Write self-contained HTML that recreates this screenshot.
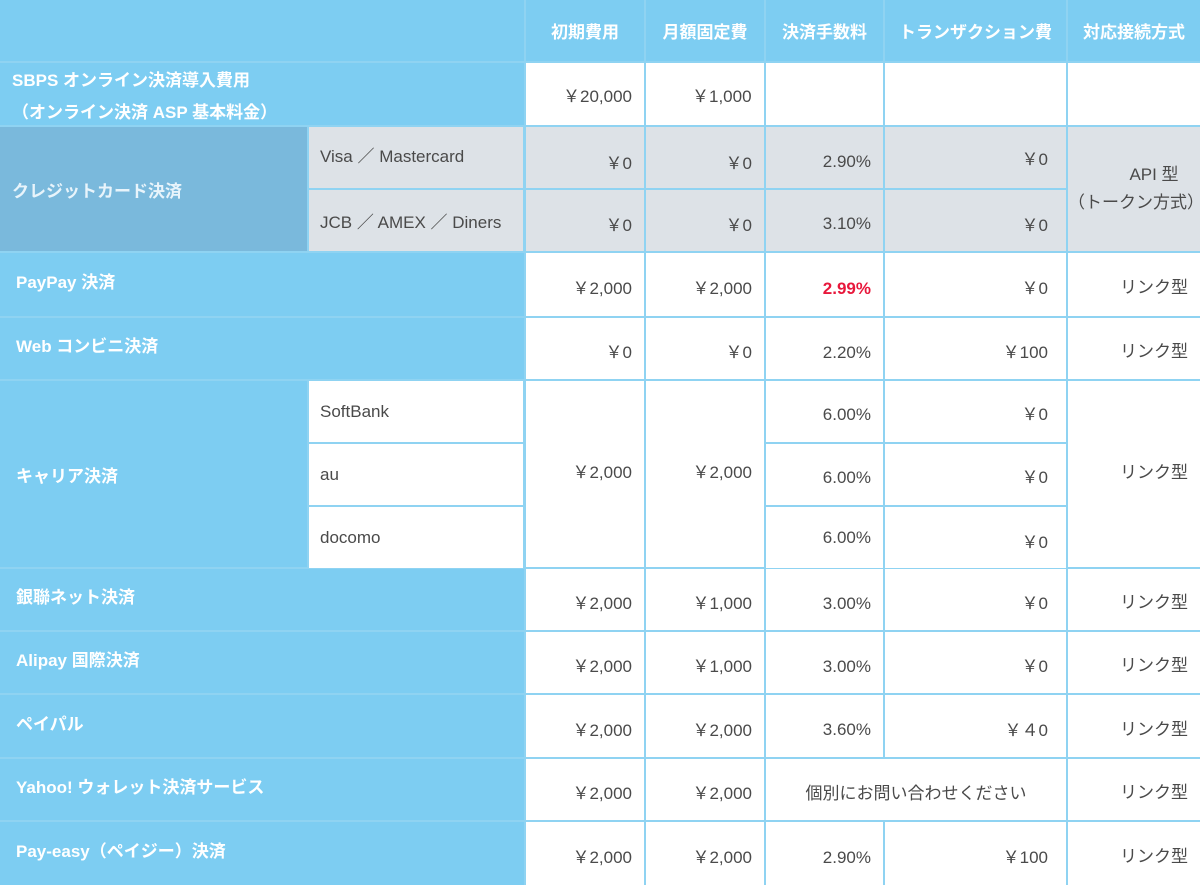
<!DOCTYPE html>
<html><head><meta charset="utf-8"><style>
body{margin:0;width:1200px;height:885px;background:#8fd3f2;position:relative;overflow:hidden;font-family:"Liberation Sans","Noto Sans CJK JP",sans-serif;}
.c{position:absolute;box-sizing:border-box;display:flex;align-items:center;font-size:17px;color:#4a4a4a;}
.b{background:#7dcdf2;color:#fff;font-weight:bold;}
.w{background:#fff;}
.g{background:#dde2e7;}
.h{justify-content:center;}
.r{justify-content:flex-end;padding-right:12px;}
.l{padding-left:12px;}
</style></head><body>
<!-- header -->
<div class="c b" style="left:0;top:0;width:524px;height:61px"></div>
<div class="c b h" style="left:526px;top:0;width:118px;height:61px">初期費用</div>
<div class="c b h" style="left:646px;top:0;width:118px;height:61px">月額固定費</div>
<div class="c b h" style="left:766px;top:0;width:117px;height:61px">決済手数料</div>
<div class="c b h" style="left:885px;top:0;width:181px;height:61px">トランザクション費</div>
<div class="c b h" style="left:1068px;top:0;width:132px;height:61px">対応接続方式</div>

<!-- SBPS -->
<div class="c b l" style="left:0;top:63px;width:524px;height:62px;line-height:32px;align-items:flex-start;padding-top:2px">SBPS オンライン決済導入費用<br>（オンライン決済 ASP 基本料金）</div>
<div class="c w r" style="left:526px;top:63px;width:118px;height:62px">￥20,000</div>
<div class="c w r" style="left:646px;top:63px;width:118px;height:62px;justify-content:flex-start;padding-left:46px">￥1,000</div>
<div class="c w" style="left:766px;top:63px;width:117px;height:62px"></div>
<div class="c w" style="left:885px;top:63px;width:181px;height:62px"></div>
<div class="c w" style="left:1068px;top:63px;width:132px;height:62px"></div>

<!-- credit card -->
<div class="c l" style="left:0;top:127px;width:307px;height:124px;background:#7ab9dc;color:#e8f4fb;font-weight:bold">クレジットカード決済</div>
<div class="c g l" style="left:309px;top:127px;width:214px;height:61px;padding-left:11px;padding-bottom:6px">Visa ／ Mastercard</div>
<div class="c g r" style="left:526px;top:127px;width:118px;height:61px;padding-top:8px">￥0</div>
<div class="c g r" style="left:646px;top:127px;width:118px;height:61px;padding-top:8px">￥0</div>
<div class="c g r" style="left:766px;top:127px;width:117px;height:61px;padding-top:8px">2.90%</div>
<div class="c g r" style="left:885px;top:127px;width:181px;height:61px;padding-right:18px">￥0</div>
<div class="c g l" style="left:309px;top:190px;width:214px;height:61px;padding-left:11px">JCB ／ AMEX ／ Diners</div>
<div class="c g r" style="left:526px;top:190px;width:118px;height:61px;padding-top:6px">￥0</div>
<div class="c g r" style="left:646px;top:190px;width:118px;height:61px;padding-top:6px">￥0</div>
<div class="c g r" style="left:766px;top:190px;width:117px;height:61px;padding-top:6px">3.10%</div>
<div class="c g r" style="left:885px;top:190px;width:181px;height:61px;padding-right:18px;padding-top:6px">￥0</div>
<div class="c g h" style="left:1068px;top:127px;width:132px;height:124px;flex-direction:column;justify-content:center;line-height:28px"><span style="margin-left:40px">API 型</span><span>（トークン方式）</span></div>

<!-- simple rows -->
<div id="rows"></div>
<script>
var rows=[
 ["paypay",253,63,"PayPay 決済","￥2,000","￥2,000","2.99%","￥0","リンク型"],
 ["web-konbini",318,61,"Web コンビニ決済","￥0","￥0","2.20%","￥100","リンク型"],
 ["unionpay",569,61,"銀聯ネット決済","￥2,000","￥1,000","3.00%","￥0","リンク型"],
 ["alipay",632,61,"Alipay 国際決済","￥2,000","￥1,000","3.00%","￥0","リンク型"],
 ["paypal",695,62,"ペイパル","￥2,000","￥2,000","3.60%","￥４0","リンク型"],
 ["yahoo",759,61,"Yahoo! ウォレット決済サービス","￥2,000","￥2,000",null,null,"リンク型"],
 ["payeasy",822,63,"Pay-easy（ペイジー）決済","￥2,000","￥2,000","2.90%","￥100","リンク型"]
];
var root=document.body;
function cell(cls,x,y,w,h,txt,name,extra){
 var d=document.createElement('div');d.className='c '+cls;
 d.style.cssText='left:'+x+'px;top:'+y+'px;width:'+w+'px;height:'+h+'px;'+(extra||'');
 d.textContent=txt||'';
 
 
 root.appendChild(d);return d;
}
rows.forEach(function(r){
 var y=r[1],h=r[2];
 cell('b l',0,y,524,h,r[3],r[0]+'-label','padding-left:16px;padding-bottom:8px');
 cell('w r',526,y,118,h,r[4],r[0]+'-initial','padding-top:4px');
 cell('w r',646,y,118,h,r[5],r[0]+'-monthly','padding-top:4px');
 if(r[6]===null){
  cell('w h',766,y,300,h,'個別にお問い合わせください',r[0]+'-inquiry','padding-top:4px');
 }else{
  var f=cell('w r',766,y,117,h,r[6],r[0]+'-fee','padding-top:8px');
  if(r[0]==='paypay'){f.style.color='#e8183c';f.style.fontWeight='bold';}
  cell('w r',885,y,181,h,r[7],r[0]+'-tx','padding-right:18px;padding-top:4px');
 }
 cell('w r',1068,y,132,h,r[8],r[0]+'-conn','padding-top:2px');
});
// carrier
cell('b l',0,381,307,186,'キャリア決済','carrier-label','padding-left:16px');
var subs=[["softbank","SoftBank",381],["au","au",444],["docomo","docomo",507]];
subs.forEach(function(s){
 cell('w l',309,s[2],214,61,s[1],s[0]+'-label','padding-left:11px;padding-bottom::4px');
 cell('w r',766,s[2],117,61,'6.00%',s[0]+'-fee','padding-top:'+(s[0]==='docomo'?'0':'6')+'px');
 cell('w r',885,s[2],181,61,'￥0',s[0]+'-tx','padding-right:18px;padding-top:'+(s[0]==='docomo'?'6':'2')+'px');
});
cell('w r',526,381,118,186,'￥2,000','carrier-initial','padding-bottom:8px');
cell('w r',646,381,118,186,'￥2,000','carrier-monthly','padding-bottom:8px');
cell('w r',1068,381,132,186,'リンク型','carrier-conn','padding-bottom:8px');
</script>
</body></html>
